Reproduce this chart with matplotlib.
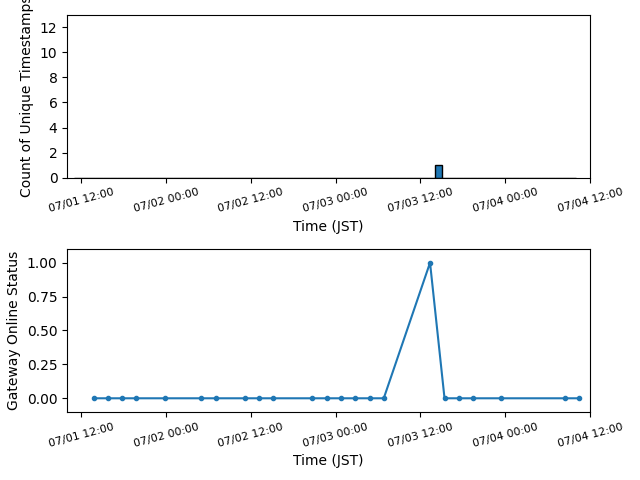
import numpy as np
import pandas as pd
import matplotlib
matplotlib.use("Agg")
import matplotlib.pyplot as plt
import matplotlib.dates as mdates
from matplotlib.ticker import MultipleLocator

# hourly bins for the unique-timestamp counts
bin_start = pd.Timestamp("2024-07-01 11:00")
bin_hours = pd.date_range(bin_start, periods=71, freq="h")
counts = [0] * 51 + [1] + [0] * 19

# gateway online status samples
status_times = pd.to_datetime([
    "2024-07-01 13:48", "2024-07-01 15:47", "2024-07-01 17:44", "2024-07-01 19:44",
    "2024-07-01 23:52", "2024-07-02 04:53", "2024-07-02 07:01", "2024-07-02 11:06",
    "2024-07-02 13:06", "2024-07-02 15:06", "2024-07-02 20:36", "2024-07-02 22:42",
    "2024-07-03 00:42", "2024-07-03 02:42", "2024-07-03 04:48", "2024-07-03 06:48",
    "2024-07-03 13:21", "2024-07-03 15:24", "2024-07-03 17:24", "2024-07-03 19:30",
    "2024-07-03 23:24", "2024-07-04 08:30", "2024-07-04 10:30",
])
status = [0, 0, 0, 0, 0, 0, 0, 0, 0, 0, 0, 0, 0, 0, 0, 0, 1, 0, 0, 0, 0, 0, 0]

xmin = pd.Timestamp("2024-07-01 10:00")
xmax = pd.Timestamp("2024-07-04 12:00")

fig, (ax1, ax2) = plt.subplots(2, 1, figsize=(6.4, 4.8), dpi=100)

ax1.bar(bin_hours, counts, width=1 / 24, align="edge", edgecolor="black")
ax1.set_ylim(0, 13)
ax1.yaxis.set_major_locator(MultipleLocator(2))
ax1.set_ylabel("Count of Unique Timestamps")
ax1.set_xlabel("Time (JST)")

ax2.plot(status_times, status, marker=".", color="C0")
ax2.set_ylim(-0.1, 1.1)
ax2.set_ylabel("Gateway Online Status")
ax2.set_xlabel("Time (JST)")

for ax in (ax1, ax2):
    ax.set_xlim(xmin, xmax)
    ax.xaxis.set_major_locator(mdates.HourLocator(byhour=[0, 12]))
    ax.xaxis.set_major_formatter(mdates.DateFormatter("%m/%d %H:%M"))
    for lbl in ax.get_xticklabels():
        lbl.set_rotation(15)
        lbl.set_fontsize(8)

fig.subplots_adjust(left=0.105, right=0.922, top=0.969, bottom=0.142, hspace=0.44)
fig.savefig("out.png")
